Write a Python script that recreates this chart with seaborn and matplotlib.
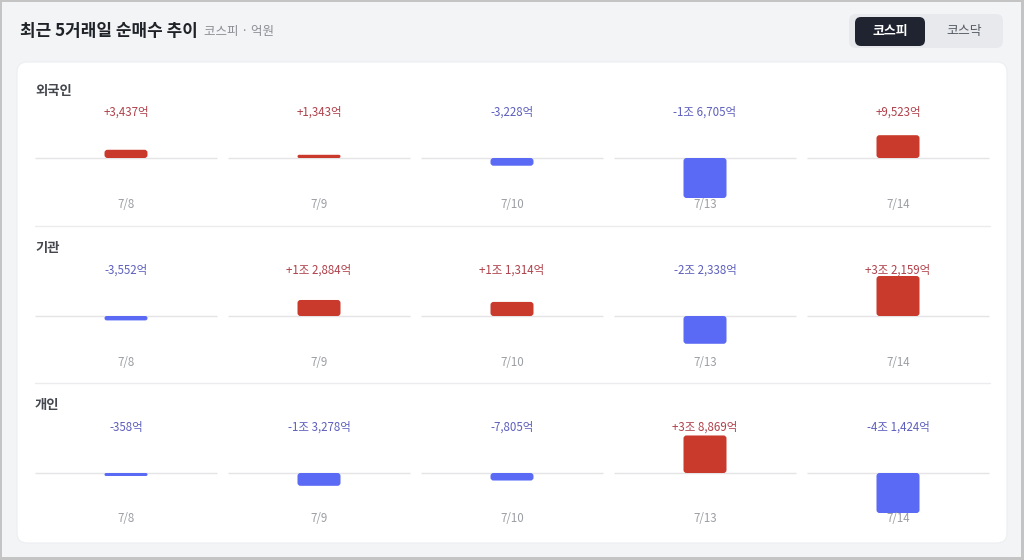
import numpy as np
import matplotlib
matplotlib.use("Agg")
import matplotlib.pyplot as plt
import seaborn as sns
from matplotlib.patches import FancyBboxPatch, Rectangle

# ------------------------
# Data (억원)
# ------------------------
dates = ["7/8", "7/9", "7/10", "7/13", "7/14"]
investors = ["외국인", "기관", "개인"]
foreign = [3437, 1343, -3228, -16705, 9523]
institution = [-3552, 12884, 11314, -22338, 32159]
individual = [-358, -13278, -7805, 38869, -41424]
series = [foreign, institution, individual]

title = "최근 5거래일 순매수 추이"
subtitle = "코스피 · 억원"
tabs = ["코스피", "코스닥"]

RED = "#c93a2d"
BLUE = "#5a6af4"
RED_TXT = "#b0414b"
BLUE_TXT = "#5d5fbd"

sns.set_theme(style="white")
plt.rcParams["font.family"] = ["Noto Sans CJK KR", "DejaVu Sans"]

W, H = 1024, 560
fig = plt.figure(figsize=(W / 100, H / 100), dpi=100)
fig.patch.set_facecolor("#c4c4c4")


def fmt(v):
    sign = "+" if v > 0 else "-"
    a = abs(v)
    jo, eok = divmod(a, 10000)
    if jo:
        return f"{sign}{jo}조 {eok:,}억"
    return f"{sign}{eok:,}억"


# ------------------------
# Background card (pixel coordinates)
# ------------------------
bg = fig.add_axes([0, 0, 1, 1])
bg.set_xlim(0, W)
bg.set_ylim(H, 0)
bg.axis("off")
bg.add_patch(Rectangle((2, 2), W - 5, H - 5, facecolor="#f3f4f6", edgecolor="none"))
bg.add_patch(FancyBboxPatch((17, 62), 990, 481, boxstyle="round,pad=0,rounding_size=10",
                            facecolor="white", edgecolor="#eceef1", lw=0.8))

bg.text(20, 31, title, fontsize=12.2, fontweight="bold", color="#1f2328", va="center")
bg.text(204, 32, subtitle, fontsize=9, color="#8a8d93", va="center")

# toggle buttons
bg.add_patch(FancyBboxPatch((849, 14), 154, 34, boxstyle="round,pad=0,rounding_size=7",
                            facecolor="#e8e9ed", edgecolor="none"))
bg.add_patch(FancyBboxPatch((855, 17), 70, 29, boxstyle="round,pad=0,rounding_size=6",
                            facecolor="#1f2430", edgecolor="none"))
bg.text(890, 31.5, tabs[0], fontsize=9.3, fontweight="bold", color="white", ha="center", va="center")
bg.text(964, 31.5, tabs[1], fontsize=9.3, fontweight="medium", color="#555a62", ha="center", va="center")

# row separators
for y in [226, 383]:
    bg.plot([35, 990], [y, y], color="#ececee", lw=1)

zero_y = [158, 316, 473]
label_y = [91, 248, 405]
PITCH = 193
HALF = 55  # axes half-height in px
BAR_PX = 40  # px for the row max

for r, (name, vals) in enumerate(zip(investors, series)):
    bg.text(35, label_y[r], name, fontsize=9.6, fontweight="bold", color="#44474d", va="center")

    zy = zero_y[r]
    ax = fig.add_axes([29.5 / W, 1 - (zy + HALF) / H, 965 / W, 2 * HALF / H])
    vmax = max(abs(v) for v in vals)
    upp = vmax / BAR_PX  # data units per pixel (y)
    dirs = ["up" if v > 0 else "down" for v in vals]
    sns.barplot(x=dates, y=vals, hue=dirs, palette={"up": RED, "down": BLUE},
                dodge=False, width=43 / PITCH, saturation=1, legend=False, ax=ax)
    ax.set_xlim(-0.5, 4.5)
    ax.set_ylim(-HALF * upp, HALF * upp)
    ax.axis("off")

    # zero line per cell
    for i in range(len(dates)):
        ax.hlines(0, i - 91 / PITCH, i + 91 / PITCH, color="#e4e4e6", lw=1, zorder=1)

    # rounded bars with a minimum visible height
    for p in list(ax.patches):
        h = p.get_height()
        if not np.isfinite(h):
            p.remove()
            continue
        x, y0, w = p.get_x(), p.get_y(), p.get_width()
        hpx = abs(h) / upp
        if hpx < 3:
            h = np.sign(h) * 3 * upp
            hpx = 3
        rpx = min(3, hpx / 2)
        y_lo = min(y0, y0 + h)
        fb = FancyBboxPatch((x, y_lo), w, abs(h),
                            boxstyle=f"round,pad=0,rounding_size={rpx / PITCH}",
                            mutation_aspect=upp * PITCH,
                            facecolor=p.get_facecolor(), edgecolor="none", zorder=2)
        p.remove()
        ax.add_patch(fb)

    for i, v in enumerate(vals):
        ax.text(i, 46 * upp, fmt(v), fontsize=8.3, ha="center", va="center",
                color=RED_TXT if v > 0 else BLUE_TXT)
        ax.text(i, -46 * upp, dates[i], fontsize=8.3, ha="center", va="center", color="#9b9ea3")

plt.savefig("out.png", dpi=100)
